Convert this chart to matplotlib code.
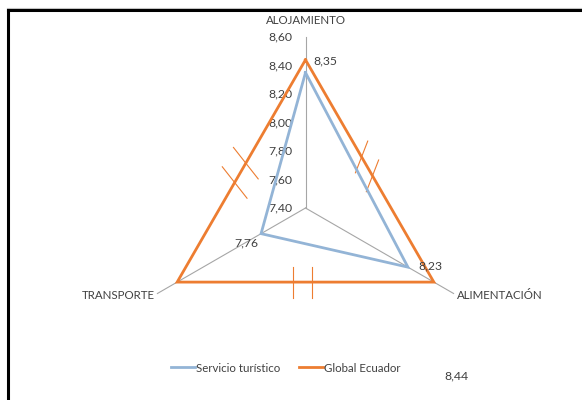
import numpy as np
import matplotlib.pyplot as plt
from matplotlib.lines import Line2D

# Radar data (scale 7.40 - 8.60)
categories = ['ALOJAMIENTO', 'ALIMENTACIÓN', 'TRANSPORTE']
servicio = [8.35, 8.23, 7.76]
global_ec = [8.44, 8.44, 8.44]
ticks = [7.40, 7.60, 7.80, 8.00, 8.20, 8.40, 8.60]
r_min, r_max = 7.40, 8.60

blue = '#93b4d6'
orange = '#ed7d31'
grey = '#a6a6a6'
text_c = '#404040'

plt.rcParams['font.family'] = ['Lato', 'DejaVu Sans']
fs = 8.3

W, H = 582, 400
scale = 142.5          # pixels per unit
cx, cy = 305.5, 208    # centre, pixels from top-left

fig = plt.figure(figsize=(W / 100, H / 100), dpi=100)
ax = fig.add_axes([0, 0, 1, 1])
ax.set_xlim(-cx / scale, (W - cx) / scale)
ax.set_ylim(-(H - cy) / scale, cy / scale)
ax.axis('off')

angles = np.deg2rad([90, -30, 210])


def to_xy(vals):
    r = np.asarray(vals) - r_min
    return r * np.cos(angles), r * np.sin(angles)


def fmt(v):
    return f'{v:.2f}'.replace('.', ',')


# spokes
for a in angles:
    ax.plot([0, (r_max - r_min) * np.cos(a)], [0, (r_max - r_min) * np.sin(a)],
            color=grey, lw=0.8, zorder=1)

# radial tick labels along the top spoke
for t in ticks:
    ax.text(-13 / scale, t - r_min, fmt(t), ha='right', va='center',
            fontsize=fs + 0.5, color=text_c)

# series
sx, sy = to_xy(servicio)
gx, gy = to_xy(global_ec)
ax.plot(np.append(sx, sx[0]), np.append(sy, sy[0]), color=blue, lw=2.0,
        solid_joinstyle='miter', zorder=3)
ax.plot(np.append(gx, gx[0]), np.append(gy, gy[0]), color=orange, lw=2.0,
        solid_joinstyle='miter', zorder=4)

# short strokes across the Global Ecuador edges
edges = [(0, 2, [0.465, 0.552], -51.8, 40),
         (0, 1, [0.437, 0.522], 68.8, 34),
         (2, 1, [0.45, 0.526], 90, 31)]
for i, j, fracs, ang, length in edges:
    d = np.deg2rad(ang)
    hx, hy = np.cos(d) * length / 2 / scale, np.sin(d) * length / 2 / scale
    for f in fracs:
        mx = gx[i] + f * (gx[j] - gx[i])
        my = gy[i] + f * (gy[j] - gy[i])
        ax.plot([mx - hx, mx + hx], [my - hy, my + hy], color=orange, lw=0.8, zorder=2)

# data labels for Servicio turístico
label_offsets = [((8, 12), 'left'), ((10, 1.5), 'left'), ((-15, -9.5), 'center')]
for x, y, v, (off, ha) in zip(sx, sy, servicio, label_offsets):
    ax.annotate(fmt(v), (x, y), xytext=off, textcoords='offset pixels',
                ha=ha, va='center', fontsize=fs + 0.5, color=text_c, zorder=5)

# category labels
rr = r_max - r_min
ax.annotate(categories[0], (0, rr), xytext=(0, 17), textcoords='offset pixels',
            ha='center', va='center', fontsize=fs, color=text_c)
ax.annotate(categories[1], (rr * np.cos(angles[1]), rr * np.sin(angles[1])),
            xytext=(3, -2), textcoords='offset pixels',
            ha='left', va='center', fontsize=fs, color=text_c)
ax.annotate(categories[2], (rr * np.cos(angles[2]), rr * np.sin(angles[2])),
            xytext=(-3, -2), textcoords='offset pixels',
            ha='right', va='center', fontsize=fs, color=text_c)

# stray Global Ecuador value label
fig.text(456 / W, 1 - 376 / H, fmt(global_ec[0]), ha='center', va='center',
         fontsize=fs + 0.5, color=text_c)

# legend
handles = [Line2D([], [], color=blue, lw=2.0), Line2D([], [], color=orange, lw=2.0)]
fig.legend(handles, ['Servicio turístico', 'Global Ecuador'], ncol=2, frameon=False,
           loc='center', bbox_to_anchor=(285.5 / W, 1 - 368 / H), fontsize=fs,
           handlelength=2.1, handletextpad=0.1, columnspacing=1.6, labelcolor=text_c)

# chart border (top and left edges)
fig.add_artist(Line2D([7 / W, 1], [1 - 8 / H, 1 - 8 / H], color='#c8c8c8', lw=0.8))
fig.add_artist(Line2D([8 / W, 1], [1 - 10 / H, 1 - 10 / H], color='black', lw=2.2))
fig.add_artist(Line2D([8 / W, 8 / W], [0, 1 - 10 / H], color='black', lw=2.2))

fig.savefig('out.png', dpi=100)
